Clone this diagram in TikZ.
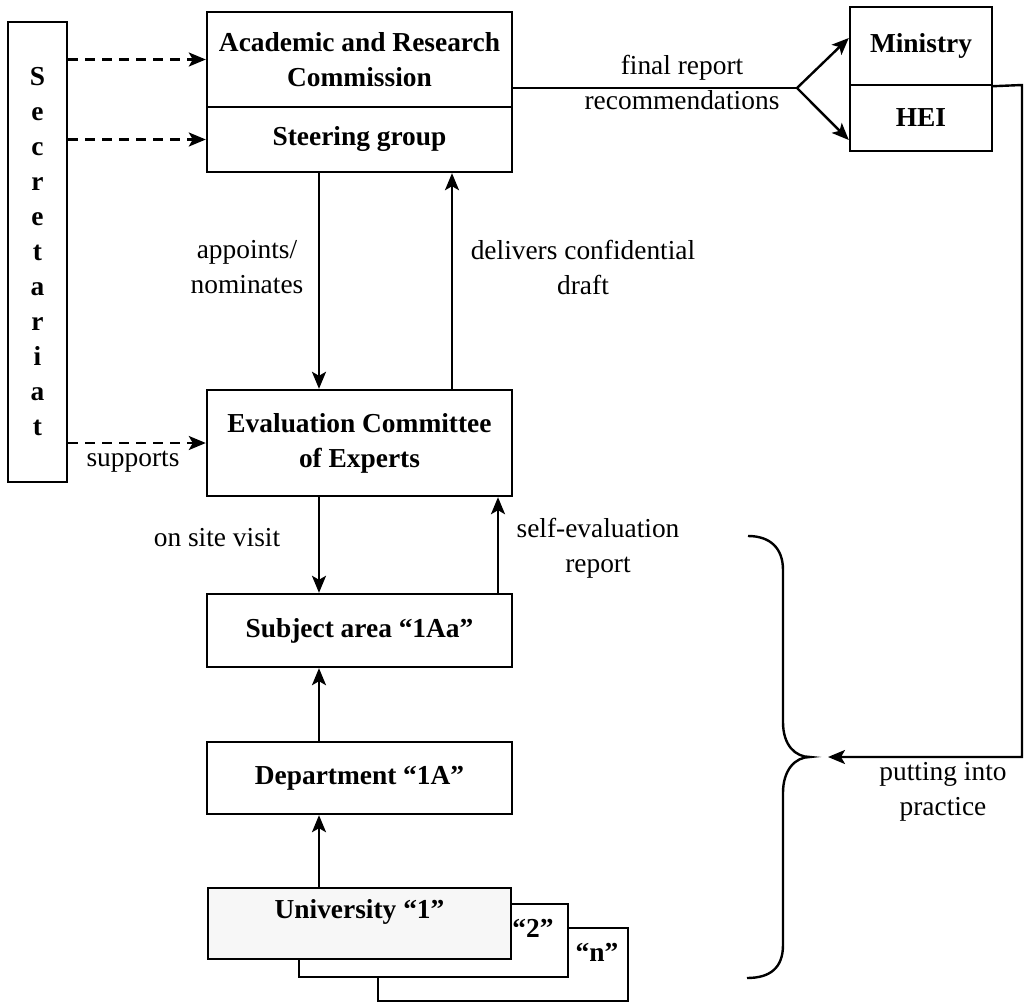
\documentclass[tikz,border=0pt]{standalone}
\usepackage{fontspec}
\setmainfont{Liberation Serif}
\usetikzlibrary{arrows.meta, calc}
\tikzset{
    blk/.style={draw, line width=1.2pt, minimum width=152.5pt, inner sep=3pt, align=center, font=\bfseries\fontsize{13.7}{17.5}\selectfont},
    num/.style={inner sep=0pt, font=\bfseries\fontsize{13.7}{17.5}\selectfont},
    lbl/.style={align=center, inner sep=0pt, font=\fontsize{13.7}{17.5}\selectfont},
    dsh/.style={dash pattern=on 5pt off 3.5pt},
    fl/.style={>={Stealth[length=8.5pt, width=7pt, inset=2pt]}, line width=1.2pt}
}

\begin{document}
\begin{tikzpicture}[fl, x=0.5pt, y=-0.5pt]
            \useasboundingbox (0,0) rectangle (1025,1002);
            \node[blk, minimum width=29.5pt, minimum height=230pt] (sec) at (37.5,252) {S\\e\\c\\r\\e\\t\\a\\r\\i\\a\\t};
            \node[blk, minimum height=47.5pt] (arc) at (359.5,59.5) {Academic and Research\\Commission};
            \node[blk, minimum height=32.5pt] (steer) at (359.5,139.5) {Steering group};
            \node[blk, minimum height=53pt] (eval) at (359.5,443) {Evaluation Committee\\of Experts};
            \node[blk, minimum height=36.5pt] (subj) at (359.5,630.5) {Subject area “1Aa”};
            \node[blk, minimum height=36pt] (dept) at (359.5,778) {Department “1A”};
            \node[blk, fill=white, minimum width=125pt, minimum height=36.5pt] (enn) at (503,964.5) {};
            \node[blk, fill=white, minimum width=134.5pt, minimum height=36.5pt] (two) at (433.5,940.5) {};
            \node[blk, fill=black!3, minimum width=151.5pt, minimum height=35.5pt, text height=10pt, text depth=15.5pt] (uni) at (359.5,923.5) {University “1”};
            \node[num] (t2) at (533,928) {“2”};
            \node[num] (tn) at (597,952) {“n”};
            \node[blk, minimum width=71pt, minimum height=39pt] (min) at (921,46) {Ministry};
            \node[blk, minimum width=71pt, minimum height=33pt] (hei) at (921,118) {HEI};

            \coordinate (split) at (797,88);
            \coordinate (rc) at (1022,85);
            \coordinate (bt) at (828,757);

            % secretariat supports
            \draw[dsh, ->] (sec.east |- arc.west) -- (arc.west);
            \draw[dsh, ->] (sec.east |- steer.west) -- (steer.west);
            \draw[dsh, ->] (sec.east |- eval.west) -- (eval.west);
            \node[lbl] (sup) at (133,462) {supports};

            \draw[->] ([xshift=-20.25pt]steer.south) -- ([xshift=-20.25pt]eval.north);
            \draw[->] ([xshift=46.25pt]eval.north) -- ([xshift=46.25pt]steer.south);
            \node[lbl] (apn) at (247,267) {appoints/\\nominates};
            \node[lbl] (dcd) at (583,267) {delivers confidential\\draft};

            \draw[->] ([xshift=-20.25pt]eval.south) -- ([xshift=-20.25pt]subj.north);
            \draw[->] ([xshift=69.25pt]subj.north) -- ([xshift=69.25pt]eval.south);
            \node[lbl] (osv) at (217,538) {on site visit};
            \node[lbl] (ser) at (598,548) {self-evaluation\\report};

            \draw[->] ([xshift=-20.25pt]dept.north) -- ([xshift=-20.25pt]subj.south);
            \draw[->] ([xshift=-20.25pt]uni.north) -- ([xshift=-20.25pt]dept.south);

            % final report
            \draw (split -| arc.east) -- (split);
            \draw[->] (split) -- ([yshift=4pt]min.west);
            \draw[->] (split) -- ([yshift=-11pt]hei.west);
            \node[lbl] (frr) at (682,82.5) {final report\\recommendations};

            % feedback
            \draw[->] (min.south east) -- (rc) |- (bt);
            \node[lbl] (pip) at (943,792) {putting into\\practice};
            \draw (748,536) .. controls (770,536) and (783,548) .. (783,570) -- (783,722)
                .. controls (783,745) and (795,757) .. (810,757)
                .. controls (795,757) and (783,770) .. (783,793) -- (783,945)
                .. controls (783,968) and (770,978) .. (747,978);
        \end{tikzpicture}
\end{document}
